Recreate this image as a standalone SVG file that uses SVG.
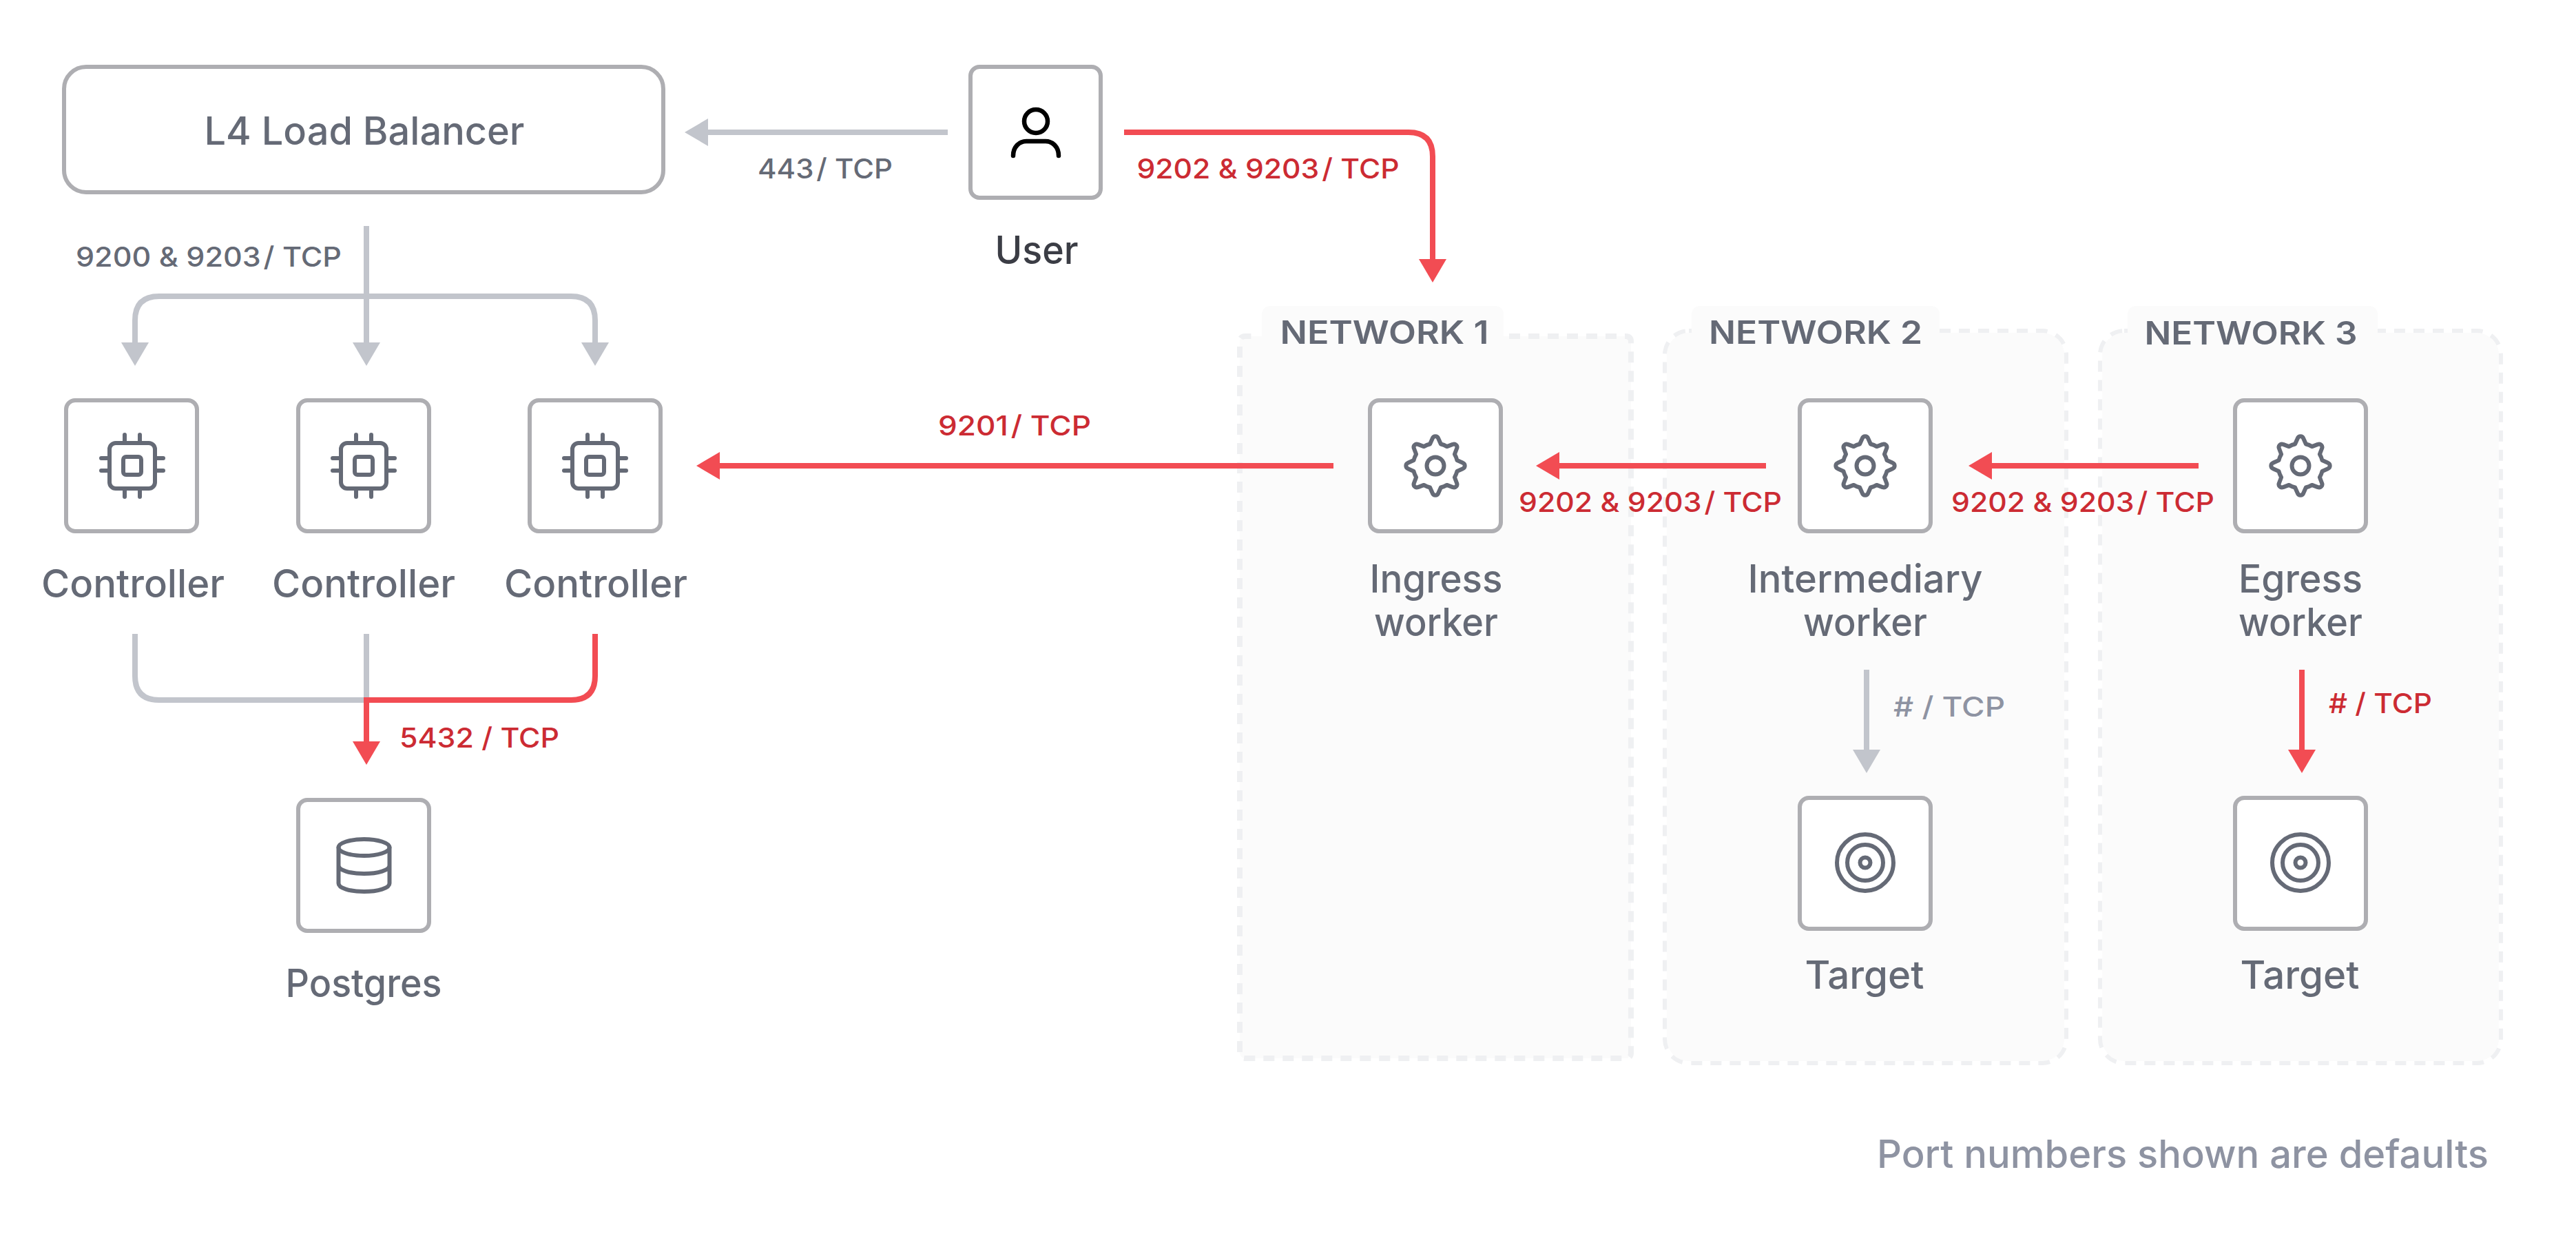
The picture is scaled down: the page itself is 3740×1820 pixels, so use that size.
<svg xmlns="http://www.w3.org/2000/svg" width="3740" height="1820" viewBox="0 0 3740 1820">
<style>
text{font-family:Inter,"Liberation Sans",sans-serif;text-anchor:middle}
.box{fill:#fff;stroke:#aeaeb2;stroke-width:6}
.lbl{font-size:56px;font-weight:500;fill:#656a76}
.port{font-size:40px;font-weight:500}
.g{fill:#656a76}.r{fill:#cc2b33}
.net{font-size:46px;font-weight:600;fill:#656a76}
.ic{fill:none;stroke:#656a76;stroke-width:6;stroke-linecap:round;stroke-linejoin:round}
.cg{fill:none;stroke:#c2c5cc;stroke-width:8}
.cr{fill:none;stroke:#f24c53;stroke-width:8}
.ag{fill:#c2c5cc}.ar{fill:#f24c53}
.nf{fill:#fbfbfb}
.nd{fill:none;stroke:#eff0f2;stroke-dasharray:16 12}
</style>
<defs>
<g id="gear" class="ic"><path d="M-7.9-31.5L-4.2-39.8A4.5 4.5 0 0 1 4.2-39.8L7.9-31.5A32.5 32.5 0 0 1 16.7-27.9L25.2-31.1A4.5 4.5 0 0 1 31.1-25.2L27.9-16.7A32.5 32.5 0 0 1 31.5-7.9L39.8-4.2A4.5 4.5 0 0 1 39.8 4.2L31.5 7.9A32.5 32.5 0 0 1 27.9 16.7L31.1 25.2A4.5 4.5 0 0 1 25.2 31.1L16.7 27.9A32.5 32.5 0 0 1 7.9 31.5L4.2 39.8A4.5 4.5 0 0 1-4.2 39.8L-7.9 31.5A32.5 32.5 0 0 1-16.7 27.9L-25.2 31.1A4.5 4.5 0 0 1-31.1 25.2L-27.9 16.7A32.5 32.5 0 0 1-31.5 7.9L-39.8 4.2A4.5 4.5 0 0 1-39.8-4.2L-31.5-7.9A32.5 32.5 0 0 1-27.9-16.7L-31.1-25.2A4.5 4.5 0 0 1-25.2-31.1L-16.7-27.9A32.5 32.5 0 0 1-7.9-31.5Z"/><circle r="12.5"/></g>
<g id="chip" class="ic"><rect x="-33" y="-33" width="66" height="66" rx="9"/><rect x="-13" y="-13" width="26" height="26" rx="4"/><path d="M-11-45V-36M11-45V-36M-11 36V45M11 36V45M-45-11H-36M-45 7H-36M36-11H45M36 7H45"/></g>
<g id="target" class="ic"><circle r="41"/><circle r="26"/><circle r="7.5"/></g>
<path id="ad" d="M0 0L-20-34H20Z"/>
<path id="al" d="M0 0L34-20V20Z"/>
</defs>

<g id="net1"><rect class="nf" x="1832" y="444" width="351" height="70" rx="12"/><rect class="nf" x="1800" y="488" width="568" height="1048" rx="8"/><path class="nd" stroke-width="8" d="M2191 488H2360Q2368 488 2368 496V1528Q2368 1536 2360 1536H1808Q1800 1536 1800 1528V496Q1800 488 1808 488H1826"/><text class="net" x="2010" y="499" textLength="303" lengthAdjust="spacingAndGlyphs">NETWORK 1</text></g>
<g id="net2"><rect class="nd" stroke-width="12" x="2420" y="483" width="577" height="1057" rx="32"/><rect class="nf" x="2420" y="483" width="577" height="1057" rx="32"/><rect class="nf" x="2456" y="444" width="360" height="70" rx="12"/><text class="net" x="2636" y="499" textLength="310" lengthAdjust="spacingAndGlyphs">NETWORK 2</text></g>
<g id="net3"><rect class="nd" stroke-width="12" x="3052" y="483" width="576" height="1057" rx="32"/><rect class="nf" x="3052" y="483" width="576" height="1057" rx="32"/><rect class="nf" x="3089" y="444" width="363" height="70" rx="12"/><text class="net" x="3268" y="500" textLength="309" lengthAdjust="spacingAndGlyphs">NETWORK 3</text></g>

<g id="connectors">
<path class="cg" d="M1376 192H1028"/><use href="#al" class="ag" x="994" y="192"/>
<path class="cg" d="M532 328V500M196 500V465Q196 430 231 430H829Q864 430 864 465V500"/>
<use href="#ad" class="ag" x="196" y="531"/><use href="#ad" class="ag" x="532" y="531"/><use href="#ad" class="ag" x="864" y="531"/>
<path class="cg" d="M196 920V981Q196 1016 231 1016H532M532 920V1016"/>
<path class="cr" d="M864 920V981Q864 1016 829 1016H532V1080"/><use href="#ad" class="ar" x="532" y="1110"/>
<path class="cr" d="M1632 192H2045Q2080 192 2080 227V380"/><use href="#ad" class="ar" x="2080" y="410"/>
<path class="cr" d="M1936 676H1045"/><use href="#al" class="ar" x="1011" y="676"/>
<path class="cr" d="M2564 676H2263"/><use href="#al" class="ar" x="2230" y="676"/>
<path class="cr" d="M3192 676H2891"/><use href="#al" class="ar" x="2858" y="676"/>
<path class="cg" d="M2710 972V1092"/><use href="#ad" class="ag" x="2710" y="1122"/>
<path class="cr" d="M3342 972V1092"/><use href="#ad" class="ar" x="3342" y="1122"/>
</g>

<g id="port-labels" class="port">
<text class="g" x="1198" y="259" textLength="196" lengthAdjust="spacingAndGlyphs">443 <tspan dx="-7">/</tspan> TCP</text>
<text class="g" x="303" y="387" textLength="386" lengthAdjust="spacingAndGlyphs">9200 &amp; 9203 <tspan dx="-7">/</tspan> TCP</text>
<text class="r" x="1841" y="259" textLength="381" lengthAdjust="spacingAndGlyphs">9202 &amp; 9203 <tspan dx="-7">/</tspan> TCP</text>
<text class="r" x="1473" y="632" textLength="222" lengthAdjust="spacingAndGlyphs">9201 <tspan dx="-7">/</tspan> TCP</text>
<text class="r" x="2396" y="743" textLength="382" lengthAdjust="spacingAndGlyphs">9202 &amp; 9203 <tspan dx="-7">/</tspan> TCP</text>
<text class="r" x="3024" y="743" textLength="382" lengthAdjust="spacingAndGlyphs">9202 &amp; 9203 <tspan dx="-7">/</tspan> TCP</text>
<text class="r" x="696" y="1085" textLength="232" lengthAdjust="spacingAndGlyphs">5432 / TCP</text>
<text x="2830" y="1040" fill="#8e93a2" textLength="162" lengthAdjust="spacingAndGlyphs"># / TCP</text>
<text class="r" x="3456" y="1035" textLength="150" lengthAdjust="spacingAndGlyphs"># / TCP</text>
</g>

<g id="lb"><rect class="box" x="93" y="97" width="870" height="182" rx="32"/><text class="lbl" x="529" y="210" textLength="465" lengthAdjust="spacingAndGlyphs">L4 Load Balancer</text></g>
<g id="user"><rect class="box" x="1409" y="97" width="189" height="190" rx="13"/><ellipse cx="1504" cy="176" rx="17" ry="17" fill="none" stroke="#000" stroke-width="6.5"/><path d="M1471 226C1471 213 1480 205 1490 205H1518C1528 205 1537 213 1537 226" fill="none" stroke="#000" stroke-width="6.5" stroke-linecap="round"/><text class="lbl" style="fill:#3b3d45" x="1505" y="383" textLength="121" lengthAdjust="spacingAndGlyphs">User</text></g>
<g id="controller1"><rect class="box" x="96" y="581" width="190" height="190" rx="13"/><use href="#chip" x="192" y="676"/><text class="lbl" x="193" y="867" textLength="266" lengthAdjust="spacingAndGlyphs">Controller</text></g>
<g id="controller2"><rect class="box" x="433" y="581" width="190" height="190" rx="13"/><use href="#chip" x="528" y="676"/><text class="lbl" x="528" y="867" textLength="266" lengthAdjust="spacingAndGlyphs">Controller</text></g>
<g id="controller3"><rect class="box" x="769" y="581" width="190" height="190" rx="13"/><use href="#chip" x="864" y="676"/><text class="lbl" x="865" y="867" textLength="266" lengthAdjust="spacingAndGlyphs">Controller</text></g>
<g id="postgres"><rect class="box" x="433" y="1161" width="190" height="190" rx="13"/><g class="ic"><ellipse cx="528.500" cy="1230" rx="37" ry="12"/><path d="M491.500 1230V1282C491.500 1289 508 1294 528.500 1294S565.500 1289 565.500 1282V1230M491.500 1256C491.500 1263 508 1268 528.500 1268S565.500 1263 565.500 1256"/></g><text class="lbl" x="528" y="1447" textLength="227" lengthAdjust="spacingAndGlyphs">Postgres</text></g>
<g id="ingress"><rect class="box" x="1989" y="581" width="190" height="190" rx="13"/><use href="#gear" x="2084" y="676"/><text class="lbl" x="2085" y="860" textLength="193" lengthAdjust="spacingAndGlyphs">Ingress</text><text class="lbl" x="2085" y="923" textLength="180" lengthAdjust="spacingAndGlyphs">worker</text></g>
<g id="intermediary"><rect class="box" x="2613" y="581" width="190" height="190" rx="13"/><use href="#gear" x="2708" y="676"/><text class="lbl" x="2708" y="860" textLength="341" lengthAdjust="spacingAndGlyphs">Intermediary</text><text class="lbl" x="2708" y="923" textLength="180" lengthAdjust="spacingAndGlyphs">worker</text></g>
<g id="egress"><rect class="box" x="3245" y="581" width="190" height="190" rx="13"/><use href="#gear" x="3340" y="676"/><text class="lbl" x="3340" y="860" textLength="180" lengthAdjust="spacingAndGlyphs">Egress</text><text class="lbl" x="3340" y="923" textLength="180" lengthAdjust="spacingAndGlyphs">worker</text></g>
<g id="target1"><rect class="box" x="2613" y="1158" width="190" height="190" rx="13"/><use href="#target" x="2708" y="1252"/><text class="lbl" x="2707" y="1435" textLength="173" lengthAdjust="spacingAndGlyphs">Target</text></g>
<g id="target2"><rect class="box" x="3245" y="1158" width="190" height="190" rx="13"/><use href="#target" x="3340" y="1252"/><text class="lbl" x="3339" y="1435" textLength="173" lengthAdjust="spacingAndGlyphs">Target</text></g>
<text id="note" class="lbl" style="fill:#8e93a2" x="3169" y="1695" textLength="888" lengthAdjust="spacingAndGlyphs">Port numbers shown are defaults</text>
</svg>
